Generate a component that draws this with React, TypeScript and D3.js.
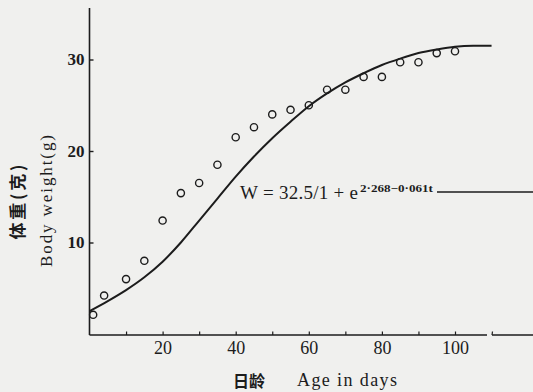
import React, { useEffect, useRef } from "react";
import * as d3 from "d3";

// observed body weights (open circles)
const days = [1, 4, 10, 15, 20, 25, 30, 35, 40, 45, 50, 55, 60, 65, 70, 75, 80, 85, 90, 95, 100];
const weights = [2.1, 4.2, 6.0, 8.0, 12.4, 15.4, 16.5, 18.5, 21.5, 22.6, 24.0, 24.5, 25.0, 26.7, 26.7, 28.1, 28.1, 29.7, 29.7, 30.7, 30.9];

// fitted logistic curve
const fitDays = [0, 5, 10, 15, 20, 25, 30, 35, 40, 45, 50, 55, 60, 65, 70, 75, 80, 85, 90, 95, 100, 105, 110];
const fitWeights = [2.5, 3.6, 4.8, 6.2, 7.9, 10.0, 12.4, 14.8, 17.2, 19.4, 21.4, 23.2, 24.9, 26.3, 27.5, 28.5, 29.4, 30.1, 30.7, 31.1, 31.4, 31.5, 31.5];

const xTicks = [10, 20, 30, 40, 50, 60, 70, 80, 90, 100];
const yTicks = [10, 20, 30];

const W = 533;
const H = 392;
const INK = "#1c1c1c";
const SERIF = "'Liberation Serif', 'Times New Roman', serif";
const CJK = "'Noto Sans CJK SC', sans-serif";

export default function App() {
    const ref = useRef<SVGSVGElement>(null);

    useEffect(() => {
        const svg = d3.select(ref.current);
        svg.selectAll("*").remove();

        const x = d3.scaleLinear().domain([0, 100]).range([89.5, 455]);
        const y = d3.scaleLinear().domain([0, 30]).range([334, 59.5]);
        const base = 335;

        svg.append("rect").attr("width", W).attr("height", H).attr("fill", "#f0f0ee");

        // axis lines
        svg.append("line")
            .attr("x1", x(0)).attr("x2", x(0))
            .attr("y1", 8).attr("y2", base)
            .attr("stroke", INK).attr("stroke-width", 1.6);
        svg.append("line")
            .attr("x1", x(0)).attr("x2", 487)
            .attr("y1", base).attr("y2", base)
            .attr("stroke", INK).attr("stroke-width", 1.4);
        svg.append("line")
            .attr("x1", 492).attr("x2", W)
            .attr("y1", base).attr("y2", base)
            .attr("stroke", INK).attr("stroke-width", 1.4);
        svg.append("line")
            .attr("x1", 492).attr("x2", 492.5)
            .attr("y1", base).attr("y2", base - 3.5)
            .attr("stroke", INK).attr("stroke-width", 1.2);

        // x ticks (inward)
        const xAxis = d3.axisBottom(x)
            .tickValues(xTicks)
            .tickSize(-3.5)
            .tickPadding(6)
            .tickFormat(d => (+d % 20 === 0 ? String(d) : ""));
        const gx = svg.append("g").attr("transform", `translate(0,${base})`).call(xAxis);
        gx.select(".domain").remove();
        gx.selectAll("line").attr("stroke", INK).attr("stroke-width", 1.2);
        gx.selectAll("text")
            .attr("fill", INK)
            .attr("font-family", SERIF)
            .attr("font-size", 18)
            .attr("dy", "0.71em");

        // y ticks (inward)
        const yAxis = d3.axisLeft(y)
            .tickValues(yTicks)
            .tickSize(-4)
            .tickPadding(5)
            .tickFormat(d => String(d));
        const gy = svg.append("g").attr("transform", `translate(${x(0)},0)`).call(yAxis);
        gy.select(".domain").remove();
        gy.selectAll("line").attr("stroke", INK).attr("stroke-width", 1.4);
        gy.selectAll("text")
            .attr("fill", INK)
            .attr("font-family", SERIF)
            .attr("font-size", 17)
            .attr("font-weight", "bold");

        // fitted curve
        const line = d3.line<number>()
            .x((d, i) => x(fitDays[i]))
            .y(d => y(d))
            .curve(d3.curveMonotoneX);
        svg.append("path")
            .attr("d", line(fitWeights))
            .attr("fill", "none")
            .attr("stroke", INK)
            .attr("stroke-width", 2);

        // observed points
        svg.selectAll("circle.obs")
            .data(weights)
            .enter()
            .append("circle")
            .attr("class", "obs")
            .attr("cx", (d, i) => x(days[i]))
            .attr("cy", d => y(d))
            .attr("r", 3.6)
            .attr("fill", "none")
            .attr("stroke", INK)
            .attr("stroke-width", 1.4);

        // equation label with leader line
        svg.append("text")
            .attr("x", 240).attr("y", 199)
            .attr("fill", INK)
            .attr("font-family", SERIF)
            .attr("font-size", 19)
            .attr("textLength", 118)
            .attr("lengthAdjust", "spacing")
            .text("W = 32.5/1 + e");
        svg.append("text")
            .attr("x", 360).attr("y", 191.5)
            .attr("fill", INK)
            .attr("font-family", SERIF)
            .attr("font-size", 11)
            .attr("font-weight", "bold")
            .attr("textLength", 73)
            .attr("lengthAdjust", "spacingAndGlyphs")
            .text("2·268−0·061t");
        svg.append("line")
            .attr("x1", 437).attr("x2", W)
            .attr("y1", 192).attr("y2", 192)
            .attr("stroke", INK).attr("stroke-width", 1.4);

        // axis titles
        svg.append("text")
            .attr("x", 233).attr("y", 387)
            .attr("fill", INK)
            .attr("font-family", CJK)
            .attr("font-size", 16)
            .attr("font-weight", "bold")
            .text("日龄");
        svg.append("text")
            .attr("x", 297).attr("y", 386)
            .attr("fill", INK)
            .attr("font-family", SERIF)
            .attr("font-size", 18)
            .attr("textLength", 100)
            .attr("lengthAdjust", "spacing")
            .text("Age in days");

        svg.append("text")
            .attr("transform", "translate(24,202) rotate(-90)")
            .attr("text-anchor", "middle")
            .attr("fill", INK)
            .attr("font-family", CJK)
            .attr("font-size", 17)
            .attr("font-weight", "bold")
            .attr("textLength", 75)
            .attr("lengthAdjust", "spacing")
            .text("体重(克)");
        svg.append("text")
            .attr("transform", "translate(52,201) rotate(-90)")
            .attr("text-anchor", "middle")
            .attr("fill", INK)
            .attr("font-family", SERIF)
            .attr("font-size", 17)
            .attr("textLength", 132)
            .attr("lengthAdjust", "spacing")
            .text("Body weight(g)");
    }, []);

    return (
        <svg
            ref={ref}
            width={W}
            height={H}
            style={{ position: "absolute", left: 0, top: 0 }}
        />
    );
}
